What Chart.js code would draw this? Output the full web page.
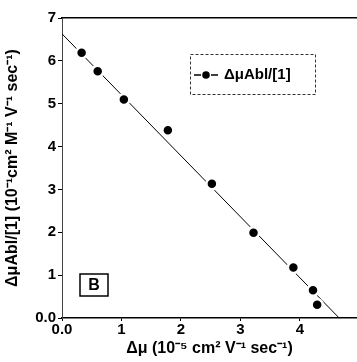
<!DOCTYPE html>
<html>
<head>
<meta charset="utf-8">
<script src="https://cdn.jsdelivr.net/npm/chart.js@4.4.1/dist/chart.umd.min.js"></script>
<style>
  html, body { margin: 0; padding: 0; background: #fff; }
  #wrap { width: 357px; height: 362px; }
</style>
</head>
<body>
<div id="wrap"><canvas id="myChart" width="357" height="362"></canvas></div>
<script>
// data
var muX = [0.33, 0.60, 1.04, 1.78, 2.52, 3.22, 3.89, 4.22, 4.29];
var ablY = [6.19, 5.76, 5.10, 4.38, 3.13, 1.99, 1.18, 0.65, 0.31];
// fitted line ends
var fitX = [0, 4.66];
var fitY = [6.63, 0];
var xTicks = [0, 1, 2, 3, 4];
var yTicks = [0, 1, 2, 3, 4, 5, 6, 7];
var seriesLabel = 'ΔμAbl/[1]';
var panelLabel = 'B';

var font = 'Liberation Sans, Arial, sans-serif';

var pts = [];
for (let i = 0; i < muX.length; i++) pts.push({x: muX[i], y: ablY[i]});
var fit = [];
for (let i = 0; i < fitX.length; i++) fit.push({x: fitX[i], y: fitY[i]});

// legend box + panel letter drawn inside the plot
var extras = {
  id: 'extras',
  afterDatasetsDraw(chart) {
    var c = chart.ctx;
    c.save();
    // legend
    var lx = 190, ly = 54, lw = 125, lh = 40;
    c.strokeStyle = '#333'; c.lineWidth = 1;
    c.setLineDash([3, 2]);
    c.strokeRect(lx + 0.5, ly + 0.5, lw, lh);
    c.setLineDash([]);
    c.strokeStyle = '#000'; c.lineWidth = 1.5;
    c.beginPath(); c.moveTo(lx + 4, ly + 21); c.lineTo(lx + 11, ly + 21); c.stroke();
    c.beginPath(); c.moveTo(lx + 21, ly + 21); c.lineTo(lx + 28, ly + 21); c.stroke();
    c.fillStyle = '#000';
    c.beginPath(); c.arc(lx + 16, ly + 21, 3.8, 0, Math.PI * 2); c.fill();
    c.font = 'bold 15px ' + font;
    c.textBaseline = 'middle';
    c.fillText(seriesLabel, lx + 34, ly + 21);
    // panel letter
    var bx = 80, by = 274;
    c.lineWidth = 1.5;
    c.strokeRect(bx, by, 28, 22);
    c.font = 'bold 16px ' + font;
    c.textAlign = 'center';
    c.fillText(panelLabel, bx + 14, by + 12);
    c.restore();
  }
};

function noSidePad(s) { s.paddingLeft = 0; s.paddingRight = 0; }

var ctx = document.getElementById('myChart').getContext('2d');
var chart = new Chart(ctx, {
  type: 'scatter',
  data: {
    datasets: [{
      label: 'fit',
      data: fit,
      showLine: true,
      borderColor: '#000',
      borderWidth: 1,
      pointRadius: 0,
      order: 2
    }, {
      label: seriesLabel,
      data: pts,
      backgroundColor: '#000',
      borderColor: '#fff',
      borderWidth: 2.5,
      pointRadius: 5.5,
      order: 1
    }]
  },
  options: {
    responsive: false,
    animation: false,
    layout: { padding: 0, autoPadding: false },
    plugins: { legend: { display: false }, tooltip: { enabled: false } },
    scales: {
      x: {
        type: 'linear', position: 'bottom', min: 0, max: 4.96,
        afterBuildTicks: function(s) { s.ticks = xTicks.map(function(v) { return {value: v}; }); },
        afterFit: function(s) { s.height = 44; noSidePad(s); },
        grid: { drawOnChartArea: false, drawTicks: true, tickLength: 3, color: '#000' },
        border: { display: true, color: '#000', width: 1.5 },
        ticks: {
          color: '#000', padding: 0, maxRotation: 0,
          font: { family: font, size: 15, weight: 'bold' },
          callback: function(v) { return v === 0 ? '0.0' : v; }
        },
        title: {
          display: true, text: 'Δμ (10⁻⁵ cm² V⁻¹ sec⁻¹)', color: '#000', padding: { top: 0, bottom: 4 },
          font: { family: font, size: 16, weight: 'bold' }
        }
      },
      x2: {
        type: 'linear', position: 'top', min: 0, max: 4.96,
        afterFit: function(s) { s.height = 18; noSidePad(s); },
        grid: { display: false },
        ticks: { display: false },
        border: { display: true, color: '#000', width: 1.5 }
      },
      y: {
        type: 'linear', min: 0, max: 7,
        afterBuildTicks: function(s) { s.ticks = yTicks.map(function(v) { return {value: v}; }); },
        afterFit: function(s) { s.width = 62; s.paddingTop = 0; s.paddingBottom = 0; },
        grid: { drawOnChartArea: false, drawTicks: true, tickLength: 4, color: '#000' },
        border: { display: true, color: '#444', width: 1, dash: [3, 2] },
        ticks: {
          color: '#000', padding: 2,
          font: { family: font, size: 15, weight: 'bold' },
          callback: function(v) { return v === 0 ? '0.0' : v; }
        },
        title: {
          display: true, text: 'ΔμAbl/[1] (10⁻¹cm² M⁻¹ V⁻¹ sec⁻¹)', color: '#000', padding: { top: 3, bottom: 0 },
          font: { family: font, size: 16, weight: 'bold' }
        }
      }
    }
  },
  plugins: [extras]
});
</script>
</body>
</html>
